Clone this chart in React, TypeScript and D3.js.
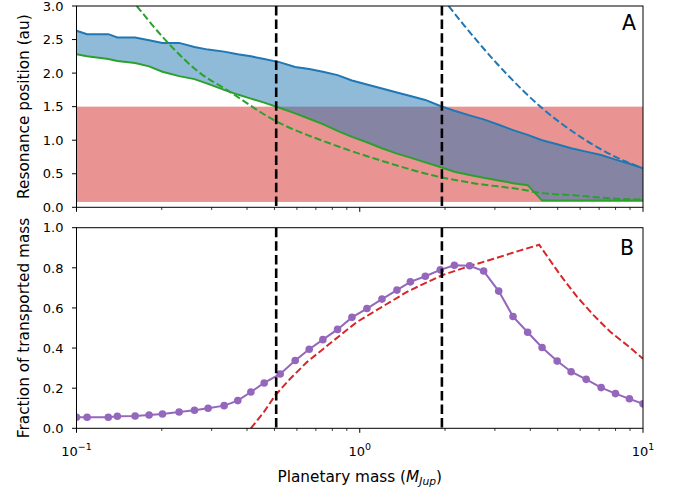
import React from "react";
import * as d3 from "d3";

// ---------- data ----------
const masses = [0.1, 0.109, 0.1295, 0.1394, 0.161, 0.1804, 0.2011, 0.2303, 0.2609, 0.2915,
  0.332, 0.371, 0.4126, 0.4598, 0.5237, 0.5917, 0.6631, 0.741, 0.8348, 0.9385,
  1.06, 1.198, 1.353, 1.509, 1.704, 1.925, 2.158, 2.443, 2.738, 3.094,
  3.477, 3.916, 4.403, 4.976, 5.576, 6.3, 7.117, 7.995, 8.958, 10.0];

const outerResonance = [2.63, 2.58, 2.58, 2.53, 2.53, 2.49, 2.45, 2.45, 2.39, 2.35,
  2.32, 2.28, 2.25, 2.21, 2.16, 2.09, 2.06, 2.02, 1.97, 1.89,
  1.83, 1.77, 1.71, 1.66, 1.60, 1.51, 1.44, 1.37, 1.31, 1.23,
  1.15, 1.08, 1.00, 0.94, 0.88, 0.83, 0.78, 0.71, 0.65, 0.58];

const innerResonance = [2.28, 2.25, 2.21, 2.18, 2.15, 2.10, 2.02, 1.955, 1.91, 1.84,
  1.75, 1.68, 1.62, 1.56, 1.48, 1.40, 1.32, 1.24, 1.14, 1.05,
  0.97, 0.88, 0.80, 0.74, 0.67, 0.60, 0.53, 0.48, 0.44, 0.40,
  0.36, 0.33, 0.10, 0.10, 0.10, 0.10, 0.10, 0.10, 0.10, 0.10];

const transportedFraction = [0.055, 0.055, 0.055, 0.06, 0.061, 0.066, 0.071, 0.081, 0.09, 0.10,
  0.113, 0.138, 0.181, 0.226, 0.271, 0.338, 0.394, 0.442, 0.493, 0.553,
  0.597, 0.644, 0.689, 0.73, 0.758, 0.79, 0.813, 0.81, 0.784, 0.684,
  0.557, 0.479, 0.403, 0.335, 0.282, 0.244, 0.203, 0.173, 0.147, 0.122];

const greenDashMass = [0.1632, 0.2105, 0.2732, 0.3394, 0.5028, 0.7866, 1.181, 1.925, 2.518, 3.907, 4.239, 5.679, 7.866, 10.0];
const greenDashVal = [3.0, 2.45, 2.0, 1.75, 1.29, 0.95, 0.70, 0.45, 0.36, 0.25, 0.22, 0.18, 0.13, 0.115];

const blueDashMass = [2.06, 2.327, 2.524, 3.054, 3.313, 4.344, 6.015, 8.102, 10.0];
const blueDashVal = [3.0, 2.72, 2.54, 2.14, 1.98, 1.50, 1.05, 0.74, 0.58];

const redDashMass = [0.4125, 0.4598, 0.5028, 0.5681, 0.6509, 0.7449, 0.8534, 0.9775, 1.119, 1.282,
  1.468, 1.681, 1.952, 2.458, 2.971, 3.691, 4.3, 5.111, 5.855, 6.701, 7.677, 8.795, 10.0];
const redDashVal = [0, 0.083, 0.164, 0.247, 0.33, 0.397, 0.464, 0.53, 0.58, 0.63,
  0.68, 0.72, 0.763, 0.81, 0.845, 0.887, 0.915, 0.763, 0.655, 0.563, 0.48, 0.414, 0.347];

const band = [0.08, 1.5];
const verticalMasses = [0.507, 1.95];

const yTicksA = [0, 0.5, 1.0, 1.5, 2.0, 2.5, 3.0];
const yTicksB = [0, 0.2, 0.4, 0.6, 0.8, 1.0];
const xMajor = [0.1, 1, 10];
const xMajorExp = ["\u22121", "0", "1"];
const xMinor = [0.2, 0.3, 0.4, 0.5, 0.6, 0.7, 0.8, 0.9, 2, 3, 4, 5, 6, 7, 8, 9];

// ---------- layout ----------
const W = 681, H = 491;
const L = 76.5, R = 643;
const A_TOP = 6, A_BOT = 207.3;
const B_TOP = 227.7, B_BOT = 428.3;
const FONT = "DejaVu Sans, sans-serif";
const C_BLUE = "#1f77b4", C_GREEN = "#2ca02c", C_RED = "#d62728", C_PURPLE = "#9467bd";

export default function App() {
  const x = d3.scaleLog().domain([0.1, 10]).range([L, R]);
  const yA = d3.scaleLinear().domain([0, 3]).range([A_BOT, A_TOP]);
  const yB = d3.scaleLinear().domain([0, 1]).range([B_BOT, B_TOP]);
  const idx = masses.map((_, i) => i);

  const area = d3.area<number>()
    .x((i) => x(masses[i]))
    .y0((i) => yA(innerResonance[i]))
    .y1((i) => yA(outerResonance[i]));
  const lineOuter = d3.line<number>().x((i) => x(masses[i])).y((i) => yA(outerResonance[i]));
  const lineInner = d3.line<number>().x((i) => x(masses[i])).y((i) => yA(innerResonance[i]));
  const lineGreenDash = d3.line<number>().curve(d3.curveMonotoneX)
    .x((i) => x(greenDashMass[i])).y((i) => yA(greenDashVal[i]));
  const lineBlueDash = d3.line<number>().curve(d3.curveMonotoneX)
    .x((i) => x(blueDashMass[i])).y((i) => yA(blueDashVal[i]));
  const lineRedDash = d3.line<number>()
    .x((i) => x(redDashMass[i])).y((i) => yB(redDashVal[i]));
  const linePurple = d3.line<number>().x((i) => x(masses[i])).y((i) => yB(transportedFraction[i]));

  const xTicks = (yb: number, labels: boolean) => (
    <g>
      {xMajor.map((m, i) => (
        <g key={"M" + i}>
          <line x1={x(m)} x2={x(m)} y1={yb} y2={yb + 4.5} stroke="#000" strokeWidth={1} />
          {labels && (
            <text x={x(m)} y={yb + 28} textAnchor="middle" fontSize={13} fontFamily={FONT}>
              <tspan>10</tspan>
              <tspan dy={-6} fontSize={9.5}>{xMajorExp[i]}</tspan>
            </text>
          )}
        </g>
      ))}
      {xMinor.map((m, i) => (
        <line key={"m" + i} x1={x(m)} x2={x(m)} y1={yb} y2={yb + 2.6} stroke="#000" strokeWidth={0.8} />
      ))}
    </g>
  );

  const yTicks = (ticks: number[], y: (v: number) => number) => (
    <g>
      {ticks.map((t, i) => (
        <g key={i}>
          <line x1={L - 4.5} x2={L} y1={y(t)} y2={y(t)} stroke="#000" strokeWidth={1} />
          <text x={L - 13} y={y(t)} dy="0.36em" textAnchor="end" fontSize={13} fontFamily={FONT}>
            {t.toFixed(1)}
          </text>
        </g>
      ))}
    </g>
  );

  return (
    <svg width={W} height={H} style={{ position: "absolute", left: 0, top: 0, background: "#fff" }}>
      <defs>
        <clipPath id="clipA"><rect x={L} y={A_TOP} width={R - L} height={A_BOT - A_TOP} /></clipPath>
        <clipPath id="clipB"><rect x={L} y={B_TOP} width={R - L} height={B_BOT - B_TOP} /></clipPath>
      </defs>
      <rect x={0} y={0} width={W} height={H} fill="#fff" />

      {/* Panel A */}
      <g clipPath="url(#clipA)">
        <rect x={L} y={yA(band[1])} width={R - L} height={yA(band[0]) - yA(band[1])} fill={C_RED} fillOpacity={0.5} />
        <path d={area(idx) || ""} fill={C_BLUE} fillOpacity={0.5} />
        <path d={lineOuter(idx) || ""} fill="none" stroke={C_BLUE} strokeWidth={2} />
        <path d={lineInner(idx) || ""} fill="none" stroke={C_GREEN} strokeWidth={2} />
        <path d={lineGreenDash(greenDashMass.map((_, i) => i)) || ""} fill="none" stroke={C_GREEN} strokeWidth={2} strokeDasharray="7.1 3.1" />
        <path d={lineBlueDash(blueDashMass.map((_, i) => i)) || ""} fill="none" stroke={C_BLUE} strokeWidth={2} strokeDasharray="7.1 3.1" />
        {verticalMasses.map((m, i) => (
          <line key={i} x1={x(m)} x2={x(m)} y1={A_TOP} y2={A_BOT} stroke="#000" strokeWidth={2.6} strokeDasharray="9.5 4.1" />
        ))}
      </g>
      <rect x={L} y={A_TOP} width={R - L} height={A_BOT - A_TOP} fill="none" stroke="#000" strokeWidth={1} />
      {xTicks(A_BOT, false)}
      {yTicks(yTicksA, yA)}
      <text x={636} y={30} textAnchor="end" fontSize={20.5} fontFamily={FONT}>A</text>
      <text transform={`translate(29,${(A_TOP + A_BOT) / 2}) rotate(-90)`} textAnchor="middle" fontSize={15.3} fontFamily={FONT}>
        Resonance position (au)
      </text>

      {/* Panel B */}
      <g clipPath="url(#clipB)">
        <path d={lineRedDash(redDashMass.map((_, i) => i)) || ""} fill="none" stroke={C_RED} strokeWidth={2} strokeDasharray="7.1 3.1" />
        <path d={linePurple(idx) || ""} fill="none" stroke={C_PURPLE} strokeWidth={2} />
        {idx.map((i) => (
          <circle key={i} cx={x(masses[i])} cy={yB(transportedFraction[i])} r={3.8} fill={C_PURPLE} />
        ))}
        {verticalMasses.map((m, i) => (
          <line key={i} x1={x(m)} x2={x(m)} y1={B_TOP} y2={B_BOT} stroke="#000" strokeWidth={2.6} strokeDasharray="9.5 4.1" />
        ))}
      </g>
      <rect x={L} y={B_TOP} width={R - L} height={B_BOT - B_TOP} fill="none" stroke="#000" strokeWidth={1} />
      {xTicks(B_BOT, true)}
      {yTicks(yTicksB, yB)}
      <text x={634} y={255} textAnchor="end" fontSize={20.5} fontFamily={FONT}>B</text>
      <text transform={`translate(29,${(B_TOP + B_BOT) / 2}) rotate(-90)`} textAnchor="middle" fontSize={15.3} fontFamily={FONT}>
        Fraction of transported mass
      </text>

      <text x={(L + R) / 2} y={481.5} textAnchor="middle" fontSize={15.3} fontFamily={FONT}>
        <tspan>Planetary mass (</tspan>
        <tspan fontStyle="italic">M</tspan>
        <tspan fontStyle="italic" fontSize={10.7} dy={3.5}>Jup</tspan>
        <tspan dy={-3.5}>)</tspan>
      </text>
    </svg>
  );
}
